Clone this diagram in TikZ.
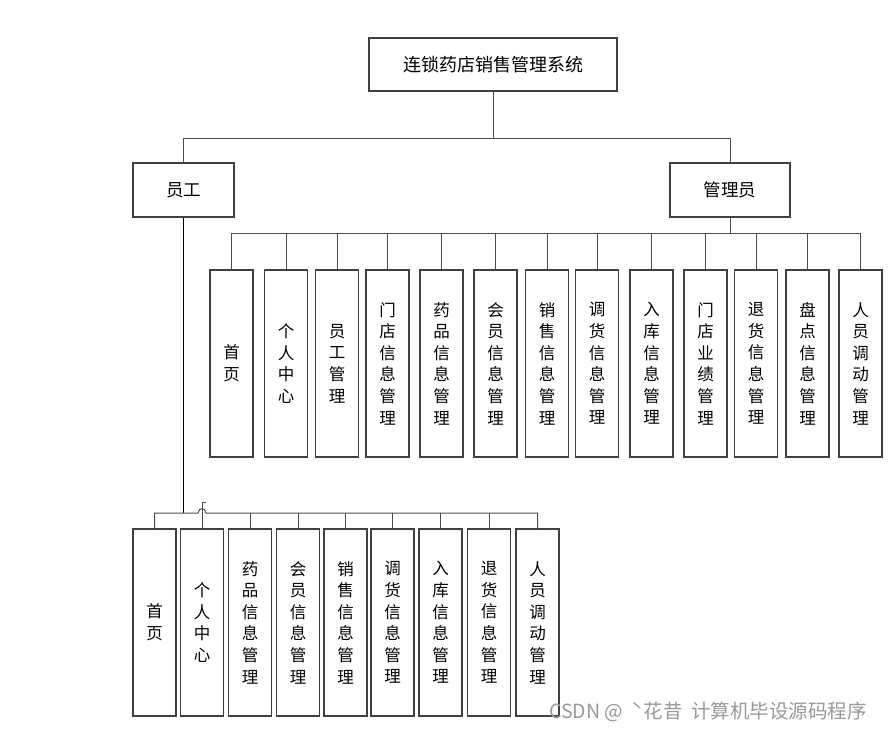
\documentclass[tikz,border=0pt]{standalone}
\usepackage{fontspec}
\newfontfamily\cjk{Noto Sans CJK SC}
\begin{document}
\begin{tikzpicture}[x=1pt,y=-1pt,
  box/.style={draw=black!75, line width=1.1pt, fill=white, inner sep=0pt, align=center,
    font=\cjk\fontsize{16.5}{21.6}\selectfont},
  tallbox/.style={box, minimum width=43pt, minimum height=187pt},
  headbox/.style={box, font=\cjk\fontsize{17.5}{20}\selectfont},
  conn/.style={draw=black!70, line width=1pt},
  trunk/.style={draw=black, line width=1.5pt}]
\useasboundingbox[fill=white] (0,0) rectangle (888,732);

\node[headbox, font=\cjk\fontsize{18}{20}\selectfont, minimum width=248pt, minimum height=53pt] (top) at (493,64.5) {连锁药店销售管理系统};
\node[headbox, minimum width=101pt, minimum height=54pt] (emp) at (183.5,190) {员工};
\node[headbox, minimum width=120pt, minimum height=54pt] (adm) at (730,190) {管理员};

% admin children
\node[tallbox] (a1) at (231.5,363.5) {首\\页};
\node[tallbox] (a2) at (286,363.5) {个\\人\\中\\心};
\node[tallbox] (a3) at (337,363.5) {员\\工\\管\\理};
\node[tallbox] (a4) at (387.5,363.5) {门\\店\\信\\息\\管\\理};
\node[tallbox] (a5) at (441.5,363.5) {药\\品\\信\\息\\管\\理};
\node[tallbox] (a6) at (495.5,363.5) {会\\员\\信\\息\\管\\理};
\node[tallbox] (a7) at (547,363.5) {销\\售\\信\\息\\管\\理};
\node[tallbox] (a8) at (597,363.5) {调\\货\\信\\息\\管\\理};
\node[tallbox] (a9) at (651.5,363.5) {入\\库\\信\\息\\管\\理};
\node[tallbox] (a10) at (705.5,363.5) {门\\店\\业\\绩\\管\\理};
\node[tallbox] (a11) at (756,363.5) {退\\货\\信\\息\\管\\理};
\node[tallbox] (a12) at (807.5,363.5) {盘\\点\\信\\息\\管\\理};
\node[tallbox] (a13) at (860.5,363.5) {人\\员\\调\\动\\管\\理};

% staff children
\node[tallbox] (s1) at (154.5,622.5) {首\\页};
\node[tallbox] (s2) at (202,622.5) {个\\人\\中\\心};
\node[tallbox] (s3) at (250,622.5) {药\\品\\信\\息\\管\\理};
\node[tallbox] (s4) at (298,622.5) {会\\员\\信\\息\\管\\理};
\node[tallbox] (s5) at (345.5,622.5) {销\\售\\信\\息\\管\\理};
\node[tallbox] (s6) at (392.5,622.5) {调\\货\\信\\息\\管\\理};
\node[tallbox] (s7) at (440.5,622.5) {入\\库\\信\\息\\管\\理};
\node[tallbox] (s8) at (489,622.5) {退\\货\\信\\息\\管\\理};
\node[tallbox] (s9) at (537.5,622.5) {人\\员\\调\\动\\管\\理};

\coordinate (tbus) at (493,138);
\coordinate (abus) at (730,233);
\coordinate (sbus) at (183.5,513);

% top connectors
\draw[conn] (top.south) -- (tbus);
\draw[conn] (tbus) -| (emp.north);
\draw[conn] (tbus) -| (adm.north);

% admin connectors
\draw[conn] (adm.south) -- (abus);
\foreach \i in {1,...,13} { \draw[conn] (abus) -| (a\i.north); }

% staff connectors
\draw[trunk] (emp.south) -- (sbus);
\draw[conn] (s1.north) -- (s1.north |- sbus) -- (198,513)
   .. controls (199,507) and (205,507) .. (206,513) -- (s9.north |- sbus) -- (s9.north);
\foreach \i in {3,...,8} { \draw[conn] (s\i.north) -- (s\i.north |- sbus); }
\draw[conn] (s2.north) -- ++(0,-26) -- ++(4,0);

% watermark
\node[anchor=west, inner sep=0pt, text=black!40, font=\cjk\fontsize{19.5}{21}\selectfont] (wm) at (549,712) {CSDN @\ \ ˋ花昔\ \ 计算机毕设源码程序};
\end{tikzpicture}
\end{document}
